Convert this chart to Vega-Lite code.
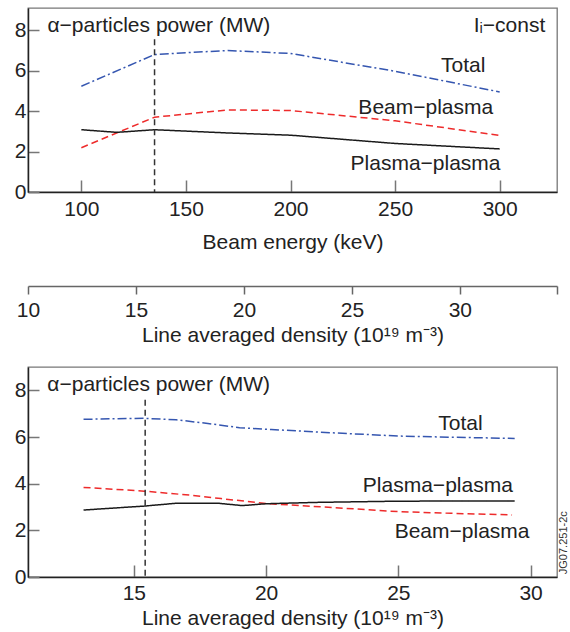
{
  "$schema": "https://vega.github.io/schema/vega-lite/v6.json",
  "background": "white",
  "padding": {"left": 13, "top": 7, "right": 0, "bottom": 0},
  "bounds": "flush",
  "spacing": 81,
  "config": {
    "font": "Liberation Sans",
    "view": {"stroke": "#777", "strokeWidth": 1.3},
    "axis": {
      "labelFont": "Liberation Sans", "titleFont": "Liberation Sans",
      "labelFontSize": 21, "titleFontSize": 21, "titleFontWeight": "normal",
      "labelColor": "#222", "titleColor": "#222", "grid": false, "labelFlush": false,
      "domainColor": "#222", "domainWidth": 1.5, "tickColor": "#777", "tickWidth": 1.5
    },
    "text": {"font": "Liberation Sans", "fontSize": 21, "color": "#222"}
  },
  "datasets": {
    "energy": [
      {"energy": 100, "series": "Total", "power": 5.23},
      {"energy": 135, "series": "Total", "power": 6.80},
      {"energy": 170, "series": "Total", "power": 7.00},
      {"energy": 200, "series": "Total", "power": 6.85},
      {"energy": 250, "series": "Total", "power": 5.97},
      {"energy": 300, "series": "Total", "power": 4.95},
      {"energy": 100, "series": "Beam-plasma", "power": 2.19},
      {"energy": 135, "series": "Beam-plasma", "power": 3.70},
      {"energy": 170, "series": "Beam-plasma", "power": 4.06},
      {"energy": 200, "series": "Beam-plasma", "power": 4.03},
      {"energy": 250, "series": "Beam-plasma", "power": 3.52},
      {"energy": 300, "series": "Beam-plasma", "power": 2.80},
      {"energy": 100, "series": "Plasma-plasma", "power": 3.08},
      {"energy": 117, "series": "Plasma-plasma", "power": 2.95},
      {"energy": 135, "series": "Plasma-plasma", "power": 3.08},
      {"energy": 170, "series": "Plasma-plasma", "power": 2.92},
      {"energy": 200, "series": "Plasma-plasma", "power": 2.81},
      {"energy": 250, "series": "Plasma-plasma", "power": 2.40},
      {"energy": 300, "series": "Plasma-plasma", "power": 2.13}
    ],
    "density": [
      {"density": 13.1, "series": "Total", "power": 6.76},
      {"density": 15.4, "series": "Total", "power": 6.80},
      {"density": 16.6, "series": "Total", "power": 6.74},
      {"density": 17.8, "series": "Total", "power": 6.58},
      {"density": 19.0, "series": "Total", "power": 6.40},
      {"density": 20.2, "series": "Total", "power": 6.32},
      {"density": 22.5, "series": "Total", "power": 6.18},
      {"density": 25.0, "series": "Total", "power": 6.04},
      {"density": 27.0, "series": "Total", "power": 5.99},
      {"density": 29.4, "series": "Total", "power": 5.94},
      {"density": 13.1, "series": "Beam-plasma", "power": 3.84},
      {"density": 15.4, "series": "Beam-plasma", "power": 3.68},
      {"density": 17.2, "series": "Beam-plasma", "power": 3.50},
      {"density": 18.3, "series": "Beam-plasma", "power": 3.36},
      {"density": 20.1, "series": "Beam-plasma", "power": 3.14},
      {"density": 22.5, "series": "Beam-plasma", "power": 2.98},
      {"density": 25.0, "series": "Beam-plasma", "power": 2.80},
      {"density": 27.0, "series": "Beam-plasma", "power": 2.73},
      {"density": 29.3, "series": "Beam-plasma", "power": 2.66},
      {"density": 13.1, "series": "Plasma-plasma", "power": 2.87},
      {"density": 15.4, "series": "Plasma-plasma", "power": 3.04},
      {"density": 16.6, "series": "Plasma-plasma", "power": 3.16},
      {"density": 18.2, "series": "Plasma-plasma", "power": 3.16},
      {"density": 19.1, "series": "Plasma-plasma", "power": 3.06},
      {"density": 20.0, "series": "Plasma-plasma", "power": 3.14},
      {"density": 22.0, "series": "Plasma-plasma", "power": 3.20},
      {"density": 25.0, "series": "Plasma-plasma", "power": 3.25},
      {"density": 29.4, "series": "Plasma-plasma", "power": 3.26}
    ],
    "energyMarker": [{"energy": 135, "top": 7.55}],
    "densityMarker": [{"density": 15.43, "top": 7.6}],
    "energyNotes": [
      {"energy": 83.8, "power": 8.2, "label": "α−particles power (MW)"},
      {"energy": 321.8, "power": 8.2, "label": "Iᵢ−const"},
      {"energy": 293.2, "power": 6.22, "label": "Total"},
      {"energy": 296.9, "power": 4.16, "label": "Beam−plasma"},
      {"energy": 300.4, "power": 1.37, "label": "Plasma−plasma"}
    ],
    "densityNotes": [
      {"density": 11.73, "power": 8.23, "label": "α−particles power (MW)"},
      {"density": 28.19, "power": 6.57, "label": "Total"},
      {"density": 29.33, "power": 3.9, "label": "Plasma−plasma"},
      {"density": 29.96, "power": 1.94, "label": "Beam−plasma"}
    ],
    "code": [{"density": 31.27, "power": 1.47, "label": "JG07.251-2c"}]
  },
  "vconcat": [
    {
      "width": 529, "height": 184,
      "layer": [
        {
          "data": {"name": "energy"},
          "mark": {"type": "line", "strokeWidth": 1.5},
          "encoding": {
            "x": {"field": "energy", "type": "quantitative", "scale": {"domain": [74.5, 327.4], "nice": false, "zero": false},
                  "axis": {"title": "Beam energy (keV)", "values": [100, 150, 200, 250, 300], "tickSize": -12, "labelPadding": 18, "titlePadding": 12}},
            "y": {"field": "power", "type": "quantitative", "scale": {"domain": [0, 9.1], "nice": false},
                  "axis": {"title": null, "values": [0, 2, 4, 6, 8], "tickSize": -11, "labelPadding": 13}},
            "color": {"field": "series", "type": "nominal", "scale": {"domain": ["Total", "Beam-plasma", "Plasma-plasma"], "range": ["#3556b0", "#ee2b2b", "#1a1a1a"]}, "legend": null},
            "strokeDash": {"field": "series", "type": "nominal", "scale": {"domain": ["Total", "Beam-plasma", "Plasma-plasma"], "range": [[9, 3, 2, 3], [7, 4], [1, 0]]}, "legend": null}
          }
        },
        {
          "data": {"name": "energyMarker"},
          "mark": {"type": "rule", "strokeDash": [6, 4], "color": "#333", "strokeWidth": 1.5},
          "encoding": {"x": {"field": "energy", "type": "quantitative"}, "y": {"field": "top", "type": "quantitative"}, "y2": {"datum": 0}}
        },
        {
          "data": {"name": "energyNotes"},
          "transform": [{"filter": "datum.label == 'α−particles power (MW)'"}],
          "mark": {"type": "text", "align": "left", "baseline": "middle"},
          "encoding": {"x": {"field": "energy", "type": "quantitative"}, "y": {"field": "power", "type": "quantitative"}, "text": {"field": "label"}}
        },
        {
          "data": {"name": "energyNotes"},
          "transform": [{"filter": "datum.label != 'α−particles power (MW)'"}],
          "mark": {"type": "text", "align": "right", "baseline": "middle"},
          "encoding": {"x": {"field": "energy", "type": "quantitative"}, "y": {"field": "power", "type": "quantitative"}, "text": {"field": "label"}}
        }
      ]
    },
    {
      "width": 529, "height": 13,
      "view": {"stroke": null},
      "data": {"name": "density"},
      "mark": {"type": "point", "opacity": 0},
      "encoding": {
        "x": {"field": "density", "type": "quantitative", "scale": {"domain": [10, 34.5], "nice": false, "zero": false},
              "axis": {"title": "Line averaged density (10¹⁹ m⁻³)", "values": [10, 15, 20, 25, 30, 34.5], "labelExpr": "datum.value > 33 ? '' : datum.label",
                       "tickSize": 8, "labelPadding": 5, "titlePadding": 4, "domainColor": "#666", "tickColor": "#666"}}
      }
    },
    {
      "width": 529, "height": 210,
      "layer": [
        {
          "data": {"name": "density"},
          "mark": {"type": "line", "strokeWidth": 1.5},
          "encoding": {
            "x": {"field": "density", "type": "quantitative", "scale": {"domain": [11, 31], "nice": false, "zero": false},
                  "axis": {"title": "Line averaged density (10¹⁹ m⁻³)", "values": [15, 20, 25, 30], "tickSize": -12, "labelPadding": 17, "titlePadding": 4}},
            "y": {"field": "power", "type": "quantitative", "scale": {"domain": [0, 9], "nice": false},
                  "axis": {"title": null, "values": [0, 2, 4, 6, 8], "tickSize": -11, "labelPadding": 13}},
            "color": {"field": "series", "type": "nominal", "scale": {"domain": ["Total", "Beam-plasma", "Plasma-plasma"], "range": ["#3556b0", "#ee2b2b", "#1a1a1a"]}, "legend": null},
            "strokeDash": {"field": "series", "type": "nominal", "scale": {"domain": ["Total", "Beam-plasma", "Plasma-plasma"], "range": [[9, 3, 2, 3], [7, 4], [1, 0]]}, "legend": null}
          }
        },
        {
          "data": {"name": "densityMarker"},
          "mark": {"type": "rule", "strokeDash": [6, 4], "color": "#333", "strokeWidth": 1.5},
          "encoding": {"x": {"field": "density", "type": "quantitative"}, "y": {"field": "top", "type": "quantitative"}, "y2": {"datum": 0}}
        },
        {
          "data": {"name": "densityNotes"},
          "transform": [{"filter": "datum.label == 'α−particles power (MW)'"}],
          "mark": {"type": "text", "align": "left", "baseline": "middle"},
          "encoding": {"x": {"field": "density", "type": "quantitative"}, "y": {"field": "power", "type": "quantitative"}, "text": {"field": "label"}}
        },
        {
          "data": {"name": "densityNotes"},
          "transform": [{"filter": "datum.label != 'α−particles power (MW)'"}],
          "mark": {"type": "text", "align": "right", "baseline": "middle"},
          "encoding": {"x": {"field": "density", "type": "quantitative"}, "y": {"field": "power", "type": "quantitative"}, "text": {"field": "label"}}
        },
        {
          "data": {"name": "code"},
          "mark": {"type": "text", "align": "center", "baseline": "middle", "angle": 270, "fontSize": 11, "color": "#333"},
          "encoding": {"x": {"field": "density", "type": "quantitative"}, "y": {"field": "power", "type": "quantitative"}, "text": {"field": "label"}}
        }
      ]
    }
  ]
}
